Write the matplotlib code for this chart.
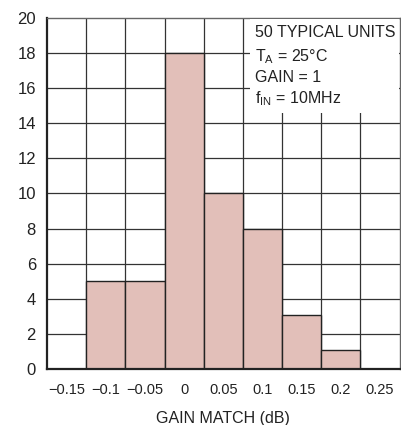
import matplotlib
matplotlib.use("Agg")
import matplotlib.pyplot as plt

# gain match histogram, 50 typical units
bin_centers = [-0.1, -0.05, 0.0, 0.05, 0.1, 0.15, 0.2]
counts = [5, 5, 18, 10, 8, 3.1, 1.1]
xticks = [-0.15, -0.1, -0.05, 0, 0.05, 0.1, 0.15, 0.2, 0.25]
xtick_labels = ["\u22120.15", "\u22120.1", "\u22120.05", "0", "0.05", "0.1", "0.15", "0.2", "0.25"]
yticks = list(range(0, 21, 2))
notes = ["50 TYPICAL UNITS", "$\\mathregular{T_A}$ = 25\u00b0C", "GAIN = 1", "$\\mathregular{f_{IN}}$ = 10MHz"]

family = "Liberation Sans"
plt.rcParams["font.family"] = family
plt.rcParams["mathtext.fontset"] = "custom"
plt.rcParams["mathtext.rm"] = family

fig = plt.figure(figsize=(4.01, 4.25), dpi=100)
ax = fig.add_axes([47 / 401, 56 / 425, 352.5 / 401, 351 / 425])

width = 0.05
ax.bar(bin_centers, counts, width=width, color="#e2bfb9", edgecolor="#222222", linewidth=1.0, zorder=2)

# grid lines sit on the bin edges
ax.set_xlim(-0.175, 0.275)
ax.set_ylim(0, 20)
for i in range(1, 9):
    ax.axvline(-0.175 + i * width, color="#333333", linewidth=0.9, zorder=1)
for y in yticks[1:-1]:
    ax.axhline(y, color="#333333", linewidth=0.9, zorder=1)

ax.set_xticks(xticks)
ax.set_xticklabels(xtick_labels)
ax.set_yticks(yticks)
ax.tick_params(axis="x", length=0, labelsize=10.5, colors="#222222", pad=10)
ax.tick_params(axis="y", length=0, labelsize=12, colors="#222222", pad=8)
ax.set_xlabel("GAIN MATCH (dB)", fontsize=11.5, color="#222222", labelpad=10)

for s in ["left", "bottom"]:
    ax.spines[s].set_linewidth(1.6)
    ax.spines[s].set_color("#222222")
for s in ["top", "right"]:
    ax.spines[s].set_linewidth(1.0)
    ax.spines[s].set_color("#666666")

# white box with test conditions
ax.add_patch(plt.Rectangle((0.084, 14.6), 0.19, 5.35, facecolor="white", edgecolor="none", zorder=3))
ys = [19.15, 17.8, 16.6, 15.4]
for t, y in zip(notes, ys):
    ax.text(0.0905, y, t, fontsize=11.5, color="#222222", va="center", ha="left", zorder=4)

fig.savefig("out.png", dpi=100)
